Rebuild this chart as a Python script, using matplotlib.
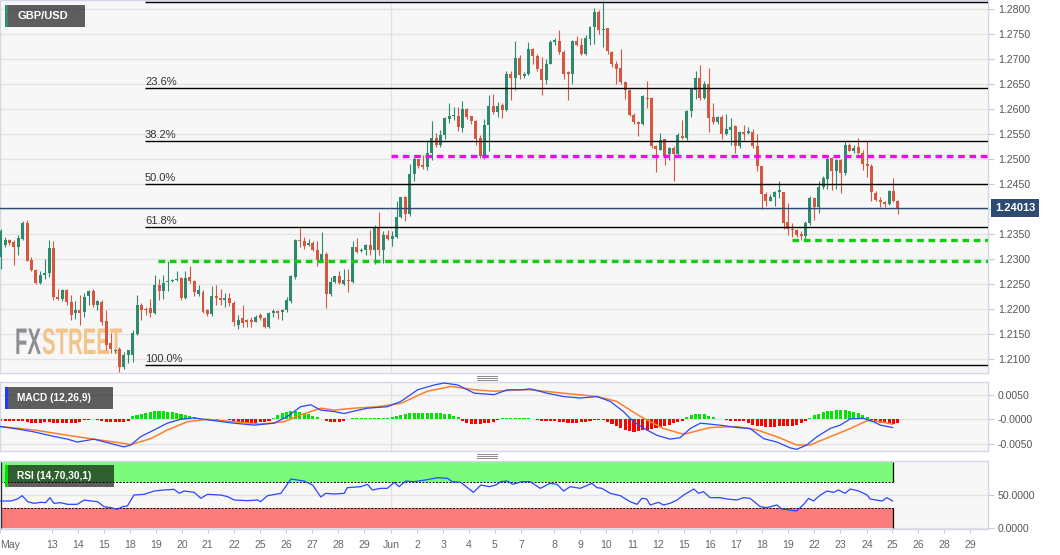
import numpy as np
import matplotlib.pyplot as plt
from matplotlib.patches import Rectangle, PathPatch
from matplotlib.textpath import TextPath
from matplotlib.font_manager import FontProperties
from matplotlib.transforms import Affine2D, blended_transform_factory
from matplotlib.lines import Line2D
from matplotlib.ticker import FuncFormatter

plt.rcParams['font.family'] = ['Liberation Sans', 'DejaVu Sans']

# GBP/USD 4h candles (one entry per candle, left to right)
opens = [
    1.2305, 1.2328, 1.2338, 1.2333, 1.2325, 1.2341, 1.2371, 1.2297, 1.2278, 1.2251,
    1.2268, 1.2271, 1.2321, 1.2225, 1.2220, 1.2238, 1.2213, 1.2191, 1.2198, 1.2195,
    1.2226, 1.2235, 1.2208, 1.2215, 1.2175, 1.2131, 1.2116, 1.2119, 1.2085, 1.2108,
    1.2108, 1.2150, 1.2208, 1.2201, 1.2201, 1.2191, 1.2248, 1.2236, 1.2253, 1.2256,
    1.2258, 1.2261, 1.2223, 1.2263, 1.2255, 1.2230, 1.2235, 1.2197, 1.2190, 1.2226,
    1.2223, 1.2218, 1.2221, 1.2211, 1.2168, 1.2181, 1.2178, 1.2177, 1.2175, 1.2188,
    1.2181, 1.2165, 1.2191, 1.2195, 1.2195, 1.2198, 1.2215, 1.2265, 1.2338, 1.2335,
    1.2328, 1.2331, 1.2318, 1.2298, 1.2310, 1.2230, 1.2253, 1.2265, 1.2250, 1.2258,
    1.2253, 1.2323, 1.2315, 1.2318, 1.2328, 1.2318, 1.2363, 1.2318, 1.2348, 1.2341,
    1.2345, 1.2385, 1.2423, 1.2390, 1.2470, 1.2499, 1.2488, 1.2485, 1.2511, 1.2541,
    1.2528, 1.2548, 1.2581, 1.2586, 1.2586, 1.2563, 1.2599, 1.2585, 1.2575, 1.2541,
    1.2506, 1.2568, 1.2606, 1.2593, 1.2608, 1.2598, 1.2670, 1.2663, 1.2701, 1.2666,
    1.2670, 1.2719, 1.2706, 1.2681, 1.2658, 1.2691, 1.2733, 1.2735, 1.2713, 1.2673,
    1.2671, 1.2735, 1.2728, 1.2711, 1.2741, 1.2765, 1.2793, 1.2758, 1.2761, 1.2713,
    1.2690, 1.2681, 1.2653, 1.2638, 1.2588, 1.2573, 1.2570, 1.2623, 1.2621, 1.2526,
    1.2519, 1.2539, 1.2510, 1.2521, 1.2510, 1.2546, 1.2543, 1.2595, 1.2639, 1.2663,
    1.2623, 1.2650, 1.2583, 1.2573, 1.2583, 1.2550, 1.2558, 1.2565, 1.2526, 1.2553,
    1.2551, 1.2553, 1.2526, 1.2486, 1.2430, 1.2417, 1.2425, 1.2433, 1.2433, 1.2373,
    1.2361, 1.2358, 1.2350, 1.2346, 1.2371, 1.2421, 1.2405, 1.2445, 1.2461, 1.2501,
    1.2475, 1.2497, 1.2471, 1.2528, 1.2517, 1.2523, 1.2511, 1.2490, 1.2486, 1.2431,
    1.2418, 1.2413, 1.2410, 1.2435, 1.2415,
]
highs = [
    1.2361, 1.2345, 1.2341, 1.2338, 1.2348, 1.2375, 1.2378, 1.2305, 1.2281, 1.2275,
    1.2301, 1.2338, 1.2335, 1.2241, 1.2241, 1.2241, 1.2228, 1.2215, 1.2228, 1.2231,
    1.2238, 1.2240, 1.2218, 1.2218, 1.2198, 1.2151, 1.2121, 1.2125, 1.2115, 1.2119,
    1.2158, 1.2228, 1.2211, 1.2205, 1.2221, 1.2268, 1.2261, 1.2268, 1.2297, 1.2261,
    1.2275, 1.2265, 1.2275, 1.2286, 1.2258, 1.2248, 1.2238, 1.2201, 1.2246, 1.2248,
    1.2241, 1.2231, 1.2231, 1.2215, 1.2188, 1.2208, 1.2181, 1.2185, 1.2188, 1.2191,
    1.2185, 1.2193, 1.2201, 1.2198, 1.2201, 1.2225, 1.2268, 1.2341, 1.2363, 1.2345,
    1.2340, 1.2335, 1.2335, 1.2353, 1.2313, 1.2265, 1.2266, 1.2275, 1.2281, 1.2281,
    1.2335, 1.2343, 1.2323, 1.2330, 1.2358, 1.2368, 1.2393, 1.2355, 1.2359, 1.2355,
    1.2415, 1.2425, 1.2426, 1.2490, 1.2505, 1.2501, 1.2508, 1.2538, 1.2577, 1.2551,
    1.2558, 1.2585, 1.2611, 1.2605, 1.2605, 1.2616, 1.2603, 1.2586, 1.2578, 1.2548,
    1.2581, 1.2628, 1.2631, 1.2613, 1.2611, 1.2675, 1.2677, 1.2735, 1.2708, 1.2673,
    1.2733, 1.2723, 1.2711, 1.2705, 1.2701, 1.2738, 1.2743, 1.2758, 1.2718, 1.2675,
    1.2739, 1.2746, 1.2743, 1.2748, 1.2766, 1.2803, 1.2798, 1.2815, 1.2761, 1.2715,
    1.2695, 1.2721, 1.2655, 1.2641, 1.2591, 1.2575, 1.2628, 1.2655, 1.2625, 1.2528,
    1.2551, 1.2541, 1.2525, 1.2526, 1.2551, 1.2579, 1.2598, 1.2643, 1.2675, 1.2688,
    1.2657, 1.2683, 1.2611, 1.2586, 1.2588, 1.2590, 1.2583, 1.2568, 1.2557, 1.2568,
    1.2565, 1.2561, 1.2550, 1.2486, 1.2433, 1.2430, 1.2437, 1.2455, 1.2434, 1.2411,
    1.2371, 1.2361, 1.2355, 1.2376, 1.2426, 1.2425, 1.2455, 1.2466, 1.2508, 1.2505,
    1.2500, 1.2500, 1.2535, 1.2531, 1.2528, 1.2543, 1.2518, 1.2537, 1.2490, 1.2435,
    1.2425, 1.2415, 1.2438, 1.2463, 1.2418,
]
lows = [
    1.2281, 1.2325, 1.2328, 1.2288, 1.2308, 1.2338, 1.2295, 1.2275, 1.2250, 1.2250,
    1.2261, 1.2265, 1.2218, 1.2218, 1.2215, 1.2208, 1.2178, 1.2181, 1.2168, 1.2185,
    1.2208, 1.2205, 1.2198, 1.2168, 1.2118, 1.2111, 1.2111, 1.2073, 1.2081, 1.2091,
    1.2093, 1.2148, 1.2178, 1.2188, 1.2185, 1.2190, 1.2218, 1.2221, 1.2235, 1.2253,
    1.2257, 1.2218, 1.2221, 1.2251, 1.2226, 1.2226, 1.2191, 1.2186, 1.2187, 1.2208,
    1.2208, 1.2205, 1.2206, 1.2166, 1.2161, 1.2165, 1.2165, 1.2165, 1.2173, 1.2178,
    1.2163, 1.2163, 1.2185, 1.2181, 1.2178, 1.2195, 1.2211, 1.2261, 1.2325, 1.2321,
    1.2326, 1.2315, 1.2286, 1.2295, 1.2203, 1.2226, 1.2251, 1.2250, 1.2248, 1.2233,
    1.2251, 1.2311, 1.2313, 1.2308, 1.2308, 1.2290, 1.2308, 1.2291, 1.2338, 1.2326,
    1.2343, 1.2383, 1.2375, 1.2386, 1.2457, 1.2483, 1.2481, 1.2478, 1.2498, 1.2525,
    1.2525, 1.2541, 1.2571, 1.2578, 1.2557, 1.2553, 1.2581, 1.2570, 1.2528, 1.2503,
    1.2501, 1.2515, 1.2590, 1.2585, 1.2583, 1.2595, 1.2619, 1.2639, 1.2661, 1.2663,
    1.2668, 1.2691, 1.2676, 1.2628, 1.2651, 1.2690, 1.2728, 1.2710, 1.2661, 1.2619,
    1.2651, 1.2726, 1.2708, 1.2708, 1.2728, 1.2731, 1.2751, 1.2725, 1.2711, 1.2685,
    1.2651, 1.2651, 1.2621, 1.2586, 1.2570, 1.2546, 1.2568, 1.2603, 1.2523, 1.2473,
    1.2518, 1.2488, 1.2498, 1.2455, 1.2508, 1.2541, 1.2538, 1.2585, 1.2621, 1.2619,
    1.2621, 1.2553, 1.2570, 1.2570, 1.2541, 1.2548, 1.2528, 1.2511, 1.2523, 1.2538,
    1.2550, 1.2523, 1.2475, 1.2401, 1.2406, 1.2415, 1.2406, 1.2423, 1.2361, 1.2348,
    1.2345, 1.2345, 1.2338, 1.2338, 1.2368, 1.2378, 1.2391, 1.2441, 1.2441, 1.2438,
    1.2441, 1.2431, 1.2468, 1.2515, 1.2511, 1.2510, 1.2478, 1.2465, 1.2415, 1.2415,
    1.2405, 1.2405, 1.2408, 1.2413, 1.2390,
]
closes = [
    1.2355, 1.2338, 1.2331, 1.2325, 1.2341, 1.2371, 1.2297, 1.2278, 1.2251, 1.2268,
    1.2271, 1.2321, 1.2225, 1.2221, 1.2238, 1.2213, 1.2188, 1.2198, 1.2191, 1.2225,
    1.2235, 1.2208, 1.2215, 1.2175, 1.2128, 1.2121, 1.2119, 1.2085, 1.2108, 1.2118,
    1.2151, 1.2208, 1.2198, 1.2198, 1.2191, 1.2248, 1.2235, 1.2251, 1.2255, 1.2258,
    1.2261, 1.2223, 1.2263, 1.2255, 1.2233, 1.2237, 1.2195, 1.2190, 1.2225, 1.2223,
    1.2219, 1.2223, 1.2211, 1.2175, 1.2178, 1.2171, 1.2173, 1.2174, 1.2185, 1.2183,
    1.2165, 1.2191, 1.2195, 1.2191, 1.2198, 1.2218, 1.2265, 1.2338, 1.2335, 1.2326,
    1.2331, 1.2318, 1.2298, 1.2310, 1.2230, 1.2253, 1.2265, 1.2251, 1.2258, 1.2255,
    1.2323, 1.2313, 1.2318, 1.2328, 1.2319, 1.2363, 1.2318, 1.2348, 1.2341, 1.2346,
    1.2385, 1.2423, 1.2390, 1.2470, 1.2499, 1.2487, 1.2485, 1.2511, 1.2541, 1.2528,
    1.2548, 1.2581, 1.2586, 1.2588, 1.2565, 1.2599, 1.2585, 1.2575, 1.2541, 1.2506,
    1.2568, 1.2606, 1.2593, 1.2606, 1.2598, 1.2670, 1.2663, 1.2701, 1.2668, 1.2670,
    1.2719, 1.2706, 1.2681, 1.2658, 1.2691, 1.2733, 1.2738, 1.2713, 1.2671, 1.2670,
    1.2735, 1.2728, 1.2710, 1.2741, 1.2765, 1.2793, 1.2758, 1.2761, 1.2715, 1.2690,
    1.2681, 1.2653, 1.2638, 1.2588, 1.2573, 1.2570, 1.2625, 1.2620, 1.2526, 1.2521,
    1.2539, 1.2506, 1.2521, 1.2510, 1.2548, 1.2543, 1.2595, 1.2639, 1.2663, 1.2623,
    1.2650, 1.2583, 1.2573, 1.2583, 1.2550, 1.2559, 1.2565, 1.2526, 1.2553, 1.2550,
    1.2555, 1.2526, 1.2486, 1.2430, 1.2417, 1.2425, 1.2433, 1.2437, 1.2371, 1.2361,
    1.2358, 1.2348, 1.2346, 1.2371, 1.2421, 1.2405, 1.2445, 1.2461, 1.2501, 1.2475,
    1.2497, 1.2471, 1.2528, 1.2517, 1.2523, 1.2511, 1.2490, 1.2486, 1.2433, 1.2418,
    1.2413, 1.2410, 1.2435, 1.2415, 1.24013,
]

# x axis (candle index of each day label)
tick_pos = [-0.1, 11.7, 17.6, 23.5, 29.4, 35.3, 41.2, 47.1, 53.1, 59.0,
            64.9, 70.8, 76.7, 82.6, 88.8, 94.7, 100.6, 106.5, 112.4, 118.3,
            125.8, 131.8, 137.7, 143.6, 149.5, 155.4, 161.3, 167.2, 173.1, 179.1,
            185.0, 190.9, 197.0, 202.7, 208.6, 214.5, 220.5]
tick_labels = ['May', '13', '14', '15', '18', '19', '20', '21', '22', '25',
               '26', '27', '28', '29', 'Jun', '2', '3', '4', '5', '7',
               '8', '9', '10', '11', '12', '15', '16', '17', '18', '19',
               '22', '23', '24', '25', '26', '28', '29']

# fibonacci retracement
fib_high, fib_low = 1.2813, 1.2088
fib_ratios = [0.0, 0.236, 0.382, 0.5, 0.618, 1.0]
fib_labels = ['0.0%', '23.6%', '38.2%', '50.0%', '61.8%', '100.0%']
fib_start = 32.8

# support / resistance levels (price, first candle)
level_prices = [1.2507, 1.2297, 1.2338]
level_start = [88.8, 35.8, 180.0]

# MACD (12,26,9): lines in units of 0.0001
macd_x = [0, 3.8, 7.6, 11.4, 15.2, 17.4, 21.2, 25.0, 28.0, 29.6,
          31.8, 34.9, 37.9, 40.9, 44.0, 47.0, 53.0, 57.6, 62.2, 65.2,
          68.2, 70.5, 72.8, 75.8, 78.1, 80.4, 83.4, 87.9, 91.0, 94.8,
          98.6, 100.8, 103.9, 107.7, 112.2, 115.2, 118.5, 120.4, 124.2, 128.0,
          131.8, 135.6, 138.6, 141.6, 143.9, 146.9, 149.2, 152.2, 154.5, 156.8,
          159.1, 161.3, 164.4, 167.4, 170.4, 173.5, 176.5, 179.5, 181.0, 183.3,
          185.6, 188.6, 190.9, 193.2, 196.2, 198.5, 200.0, 202.8]
macd_line = [-15, -20, -26, -34, -41, -47, -41, -50, -57, -53,
             -36, -22, -8, 0, 3, -1, -8, -12, -8, 6,
             26, 30, 19, 16, 12, 17, 23, 26, 37, 61,
             71, 75, 71, 54, 51, 61, 61, 63, 54, 47,
             44, 47, 37, 16, -5, -22, -33, -41, -38, -19,
             -8, -10, -13, -17, -19, -40, -47, -59, -62, -53,
             -36, -19, -12, 1, 2, -5, -12, -17]
signal_x = [0, 7.6, 15.2, 22.7, 29.6, 34.1, 37.9, 42.5, 47.0, 53.0,
            59.1, 64.4, 68.2, 72.8, 75.8, 80.4, 85.7, 91.0, 97.0, 102.4,
            107.7, 112.2, 118.5, 120.4, 128.0, 135.6, 140.1, 143.1, 146.2, 150.7,
            155.3, 161.3, 167.4, 172.0, 176.5, 181.0, 184.1, 188.6, 193.2, 197.0,
            200.0, 202.8]
signal_line = [-15, -22, -33, -43, -52, -40, -22, -5, 0, -5,
               -10, -5, 9, 23, 19, 23, 26, 33, 58, 68,
               61, 58, 61, 61, 54, 47, 37, 19, 2, -19,
               -31, -17, -15, -22, -36, -53, -53, -36, -19, -3,
               -5, -10]
# histogram, one bar per candle, in units of 0.001
hist = [
    -0.3, -0.3, -0.4, -0.3, -0.3, -0.4, -0.6, -0.8, -0.8, -0.7, -0.6,
    -0.6, -0.7, -0.8, -0.8, -0.8, -0.7, -0.7, -0.6, -0.2, -0.1, 0.0, -0.1,
    -0.4, -0.5, -0.6, -0.6, -0.5, -0.5, -0.3,
    0.6, 0.9, 1.2, 1.4, 1.6, 1.7, 1.7, 1.7, 1.6, 1.5, 1.3, 1.1, 0.9, 0.7, 0.5, 0.3,
    0.1, 0.0, -0.1, -0.1, 0.0, 0.0, -0.1,
    -0.5, -0.6, -0.7, -0.7, -0.7, -0.7, -0.6, -0.5, -0.3,
    0.3, 0.8, 1.3, 1.6, 1.7, 1.7, 1.5, 1.3, 1.0, 0.7, 0.5, 0.1,
    -0.4, -0.6, -0.6, -0.5, -0.3, 0.0,
    0.2, 0.2, 0.3, 0.2, 0.2, 0.3, 0.2, 0.2, 0.3,
    0.5, 0.7, 0.9, 1.1, 1.3, 1.4, 1.4, 1.4, 1.3, 1.4, 1.3, 1.3, 1.2, 1.0, 0.7, 0.4,
    -0.3, -0.7, -1.0, -1.0, -0.9, -0.8, -0.7, -0.5, -0.2,
    0.2, 0.2, 0.3, 0.2, 0.3, 0.2, 0.2, 0.1, -0.1,
    -0.3, -0.3, -0.3, -0.4, -0.5, -0.6, -0.8, -0.8, -0.7, -0.6, -0.5, -0.4,
    -0.2, -0.1, -0.1,
    -0.5, -0.9, -1.4, -1.8, -2.2, -2.5, -2.6, -2.5,
    -2.3, -2.2, -2.0, -1.8, -1.6, -1.3, -1.1, -0.8, -0.6, -0.3,
    0.4, 0.9, 1.1, 1.2, 1.0, 0.7, 0.4, 0.1,
    0.0, -0.2, -0.3, -0.3, -0.3, -0.4,
    -0.8, -1.1, -1.3, -1.4, -1.5, -1.5, -1.5, -1.4, -1.4, -1.4, -1.3, -1.1, -0.8, -0.3,
    0.3, 0.8, 1.2, 1.5, 1.7, 1.8, 1.9, 1.9, 1.9, 1.8, 1.6, 1.3, 0.9, 0.4,
    -0.2, -0.5, -0.7, -0.8, -0.8, -0.9, -0.8,
]

# RSI (14)
rsi_x = [0, 2.3, 3.8, 4.9, 6.1, 7.6, 9.1, 10.2, 11.2, 12.1,
         13.6, 15.2, 17.4, 19.0, 20.5, 22.0, 23.5, 25.0, 26.5, 27.7,
         28.8, 30.3, 32.6, 34.9, 37.1, 39.4, 40.6, 41.7, 44.0, 45.5,
         47.0, 50.0, 51.6, 53.1, 56.1, 58.4, 59.1, 60.7, 63.7, 66.0,
         69.0, 70.9, 72.8, 73.9, 75.8, 78.1, 78.8, 81.9, 83.4, 84.5,
         86.4, 87.9, 89.5, 90.6, 92.1, 94.0, 97.0, 99.3, 101.6, 102.7,
         104.6, 107.5, 109.2, 111.1, 112.6, 113.7, 115.2, 116.4, 118.5, 120.4,
         122.7, 124.9, 126.5, 128.0, 129.5, 131.8, 134.4, 135.6, 136.7, 138.6,
         140.9, 143.1, 144.7, 145.8, 146.9, 147.7, 149.6, 150.7, 152.2, 153.8,
         155.3, 157.6, 158.7, 159.8, 161.3, 163.6, 165.1, 167.4, 168.9, 170.4,
         172.7, 174.2, 176.5, 177.6, 181.0, 182.6, 183.7, 184.8, 186.4, 187.9,
         189.4, 190.5, 192.0, 193.2, 195.1, 197.0, 197.7, 200.4, 201.5, 202.8]
rsi = [41, 41, 44, 49, 40, 37.5, 39, 38.5, 46, 37.5,
       38.5, 36, 36, 42.5, 41, 40, 32.5, 31, 28.5, 32.5,
       33.5, 50, 51, 56, 57.5, 58.5, 52.5, 56, 54, 45,
       51, 50, 47.5, 42.5, 41.5, 42.5, 40, 49, 52.5, 74,
       71, 65, 47, 52.5, 51.5, 52.5, 61, 62.5, 66, 57.5,
       60, 60, 69, 62.5, 71, 70, 73, 76, 75, 70,
       69, 54, 65, 62.5, 65, 70, 71, 66, 70, 70,
       60, 67.5, 66, 56, 62.5, 60, 67.5, 61, 60, 52.5,
       49, 40, 36, 45, 44, 35, 39, 35, 37.5, 42.5,
       50, 59, 52.5, 55, 46, 46, 44, 42.5, 46, 45,
       32.5, 31, 35, 29, 26, 36, 45, 41, 50, 56,
       54, 57.5, 52.5, 59, 56, 50, 44, 41, 46, 41]

W, H = 1060, 555
GREEN, RED = '#2e8a6e', '#d5573f'
BG, GRID, EDGE = '#f7f7f7', '#e3e3e3', '#d3d8e6'
XMIN, XMAX = -0.16, 224.5

fig = plt.figure(figsize=(W / 100, H / 100), dpi=100)


def rect(l, t, r, b):
    return [l / W, 1 - b / H, (r - l) / W, (b - t) / H]


ax = fig.add_axes(rect(0, 0, 988, 372.7))
ax_m = fig.add_axes(rect(0, 382, 988, 451))
ax_r = fig.add_axes(rect(0, 460.7, 988, 529))

for a in (ax, ax_m, ax_r):
    a.set_facecolor(BG)
    for s in a.spines.values():
        s.set_color(EDGE)
        s.set_linewidth(1)
    a.set_xlim(XMIN, XMAX)
    a.yaxis.tick_right()
    a.tick_params(axis='y', length=4, color='#c5cad8', labelcolor='#555555',
                  labelsize=7.6, pad=3)
    a.tick_params(axis='x', bottom=False, labelbottom=False)
    a.grid(axis='y', color=GRID, lw=1)
    a.set_axisbelow(True)
    a.axvline(88.8, color=GRID, lw=1, zorder=0)

# ---- price panel ----
idx = np.arange(len(closes))
cols = [GREEN if c >= o else RED for o, c in zip(opens, closes)]
ax.vlines(idx, lows, highs, colors=cols, lw=0.8, zorder=3)
bottoms = [min(o, c) for o, c in zip(opens, closes)]
heights = [max(abs(c - o), 0.00008) for o, c in zip(opens, closes)]
ax.bar(idx, heights, bottom=bottoms, width=0.68, color=cols, lw=0, zorder=4)

# watermark
bold = FontProperties(family='Liberation Sans', weight='bold')
for word, x0, c in (('FX', 15, '#8e8f94'), ('STREET', 42, '#f2c48a')):
    tp = TextPath((0, 0), word, size=37, prop=bold)
    ax.add_patch(PathPatch(tp, transform=Affine2D().scale(0.55, 1).translate(x0, H - 354),
                           fc=c, ec='none', zorder=1))

fib_levels = [fib_high - r * (fib_high - fib_low) for r in fib_ratios]
ax.hlines(fib_levels, fib_start, XMAX, colors='black', lw=1.0, zorder=5)
for lv, lb in zip(fib_levels, fib_labels):
    ax.text(fib_start, lv + 0.0002, lb, fontsize=8, color='#333333',
            ha='left', va='bottom', zorder=5, clip_on=True)

ax.hlines(level_prices[0], level_start[0], XMAX, colors='#ff00ff', lw=2.4,
          linestyles=(0, (2.0, 1.4)), zorder=6)
ax.hlines(level_prices[1:], level_start[1:], XMAX, colors='#12cc12', lw=2.4,
          linestyles=(0, (2.0, 1.4)), zorder=6)

last = closes[-1]
ax.axhline(last, color='#2b4a72', lw=1.0, zorder=5)
ax.text(995 / 988, last, f'{last:.5f}', transform=blended_transform_factory(ax.transAxes, ax.transData),
        ha='left', va='center', fontsize=8, fontweight='bold', color='white', clip_on=False, zorder=10,
        bbox=dict(boxstyle='square,pad=0.35', fc='#2d4b73', ec='none'))

ax.set_ylim(1.20726, 1.2818)
ax.set_yticks(np.arange(1.21, 1.28001, 0.005))
# the 1.2400 label sits under the last-price box
ax.yaxis.set_major_formatter(FuncFormatter(lambda v, p: '' if abs(v - 1.24) < 1e-6 else f'{v:.4f}'))

# ---- MACD panel ----
hcols = ['#00e600' if h >= 0 else '#ff0000' for h in hist]
ax_m.bar(idx, [h * 10 for h in hist], width=0.7, color=hcols, lw=0, zorder=2)
ax_m.plot(signal_x, signal_line, color='#ff7f27', lw=1.1, zorder=3)
ax_m.plot(macd_x, macd_line, color='#2a46ff', lw=0.9, zorder=4)
ax_m.set_ylim(-65.5, 77.1)
ax_m.set_yticks([50, 0, -50])
ax_m.set_yticklabels(['0.0050', '-0.0000', '-0.0050'])

# ---- RSI panel ----
band_end = rsi_x[-1]
ax_r.fill_between([XMIN, band_end], 70, 100, color='#7cfa7c', lw=0, zorder=1)
ax_r.fill_between([XMIN, band_end], 0, 30, color='#fa7c7c', lw=0, zorder=1)
ax_r.hlines([70, 30], XMIN, band_end, colors='black', lw=0.7, linestyles=(0, (2, 1.5)), zorder=2)
ax_r.vlines([XMIN + 0.15, band_end], [0, 0], [100, 30], colors='black', lw=0.9, zorder=2)
ax_r.vlines(band_end, 70, 100, colors='black', lw=0.9, zorder=2)
ax_r.plot(rsi_x, rsi, color='#2a46ff', lw=0.9, zorder=3)
ax_r.set_ylim(-1.05, 101.5)
ax_r.set_yticks([50, 0])
ax_r.set_yticklabels(['50.0000', '0.0000'])
ax_r.set_xticks(tick_pos)
ax_r.set_xticklabels(tick_labels)
ax_r.tick_params(axis='x', bottom=True, labelbottom=True, length=3, color='#c5cad8',
                 labelcolor='#666666', labelsize=7.6, pad=5)
ax_r.get_xticklabels()[0].set_ha('left')


# ---- label boxes ----
def label_box(l, t, r, b, stripe, text):
    fig.add_artist(Rectangle((l / W, 1 - b / H), (r - l) / W, (b - t) / H,
                             transform=fig.transFigure, fc='black', alpha=0.62, ec='none', zorder=20))
    fig.add_artist(Rectangle((l / W, 1 - b / H), 2.5 / W, (b - t) / H,
                             transform=fig.transFigure, fc=stripe, ec='none', zorder=21))
    fig.text((l + 12) / W, 1 - (t + b) / 2 / H, text, color='white', fontweight='bold',
             fontsize=7.3 if text != 'GBP/USD' else 8, ha='left', va='center', zorder=22)


label_box(5, 5, 85, 27, '#2f8f6f', 'GBP/USD')
label_box(5, 387, 113, 409, '#1d3cff', 'MACD (12,26,9)')
label_box(5, 465, 114, 487, '#00e000', 'RSI (14,70,30,1)')

# drag handles between panels
for y0 in (376, 454.3):
    for k in range(3):
        yy = 1 - (y0 + 2 * k) / H
        fig.add_artist(Line2D([477 / W, 497 / W], [yy, yy], color='#8a8a8a', lw=0.7))

fig.savefig('out.png', dpi=100, facecolor='white')
